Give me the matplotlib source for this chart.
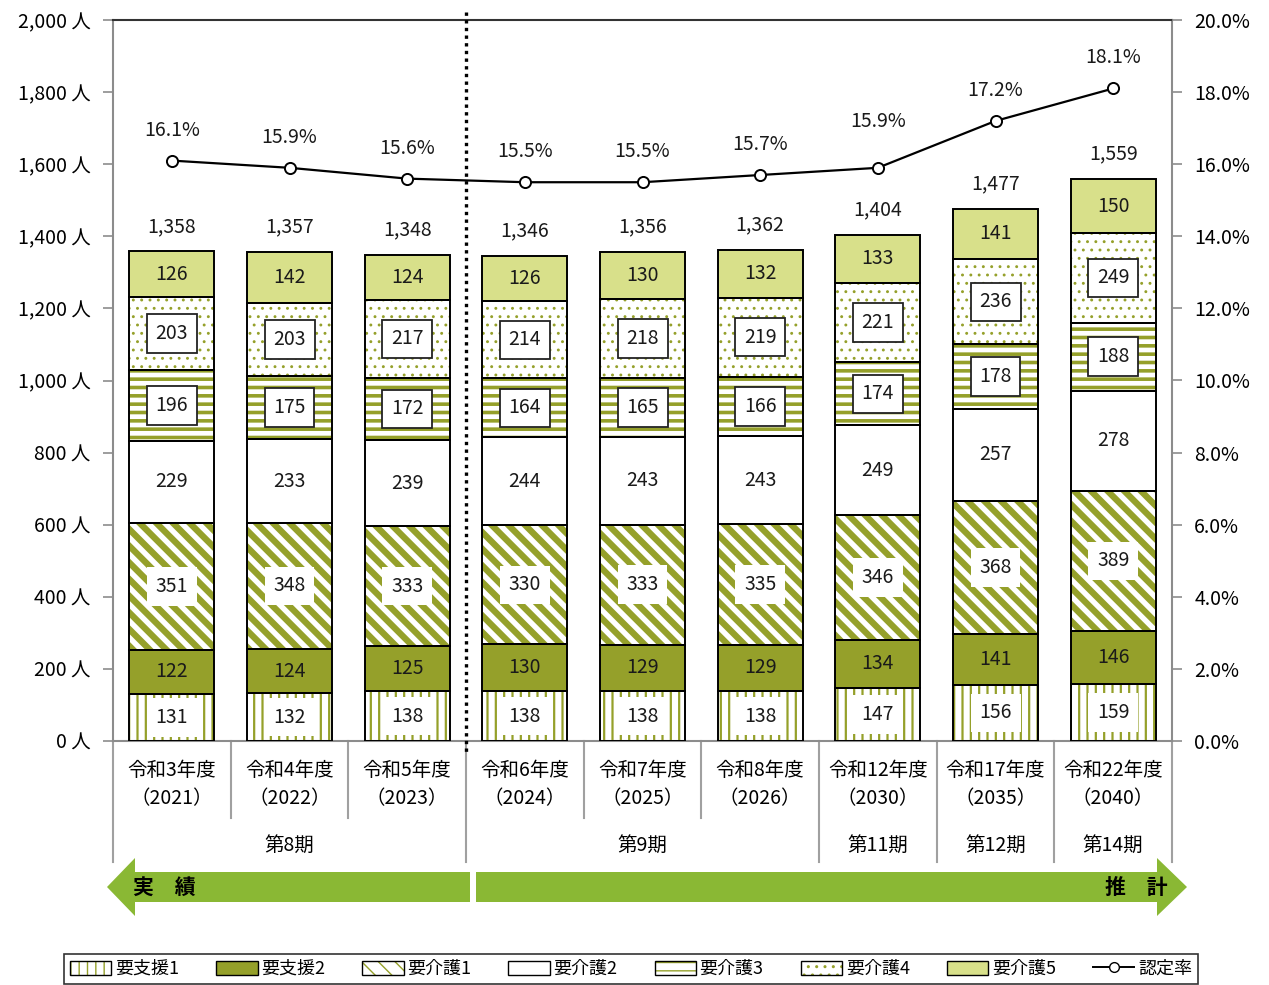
import matplotlib.pyplot as plt
import matplotlib.patches as mpatches
from matplotlib.lines import Line2D
from matplotlib import transforms
from matplotlib.legend_handler import HandlerTuple

plt.rcParams['font.family'] = ['Noto Sans CJK JP', 'DejaVu Sans']

years = ['令和3年度\n（2021）', '令和4年度\n（2022）', '令和5年度\n（2023）',
         '令和6年度\n（2024）', '令和7年度\n（2025）', '令和8年度\n（2026）',
         '令和12年度\n（2030）', '令和17年度\n（2035）', '令和22年度\n（2040）']
periods = ['第8期', '第9期', '第11期', '第12期', '第14期']
period_spans = [(0, 2), (3, 5), (6, 6), (7, 7), (8, 8)]

series_names = ['要支援1', '要支援2', '要介護1', '要介護2', '要介護3', '要介護4', '要介護5']
shien1 = [131, 132, 138, 138, 138, 138, 147, 156, 159]
shien2 = [122, 124, 125, 130, 129, 129, 134, 141, 146]
kaigo1 = [351, 348, 333, 330, 333, 335, 346, 368, 389]
kaigo2 = [229, 233, 239, 244, 243, 243, 249, 257, 278]
kaigo3 = [196, 175, 172, 164, 165, 166, 174, 178, 188]
kaigo4 = [203, 203, 217, 214, 218, 219, 221, 236, 249]
kaigo5 = [126, 142, 124, 126, 130, 132, 133, 141, 150]
totals = [1358, 1357, 1348, 1346, 1356, 1362, 1404, 1477, 1559]
rate = [16.1, 15.9, 15.6, 15.5, 15.5, 15.7, 15.9, 17.2, 18.1]

OLIVE = '#95A02A'
LIGHT = '#D8E08A'
ARROW = '#8AB834'
GRAY = '#8C8C8C'

# face colour, hatch, hatch colour, hatch width, label style
styles = [
    ('white', '||', OLIVE, 1.6, 'white'),
    (OLIVE, None, None, 0, None),
    ('white', '\\\\', OLIVE, 4.6, 'white'),
    ('white', None, None, 0, None),
    ('white', '--', OLIVE, 2.6, 'boxed'),
    ('white', '..', OLIVE, 0.9, 'boxed'),
    (LIGHT, None, None, 0, None),
]
data = [shien1, shien2, kaigo1, kaigo2, kaigo3, kaigo4, kaigo5]

W, H = 1269, 985
fig = plt.figure(figsize=(W / 100, H / 100), dpi=100)
ax = fig.add_axes([113 / W, 1 - 741 / H, (1172 - 113) / W, 721 / H])
x = list(range(len(years)))
bw = 0.72
FS = 14


def make_patch(face, hatch, hcol, hlw):
    p = mpatches.Rectangle((0, 0), 1, 1, facecolor=face,
                           edgecolor=hcol if hatch else 'none',
                           hatch=hatch, linewidth=0)
    if hatch and hasattr(p, 'set_hatch_linewidth'):
        p.set_hatch_linewidth(hlw)
    return p


bottom = [0] * len(x)
legend_handles = []
for vals, (face, hatch, hcol, hlw, lab) in zip(data, styles):
    with plt.rc_context({'hatch.linewidth': hlw if hatch else 1.0}):
        bars = ax.bar(x, vals, bw, bottom=bottom, color=face,
                      edgecolor=hcol if hatch else 'none', hatch=hatch,
                      linewidth=0, zorder=2)
        if hatch:
            for b in bars:
                if hasattr(b, 'set_hatch_linewidth'):
                    b.set_hatch_linewidth(hlw)
    ax.bar(x, vals, bw, bottom=bottom, fill=False, edgecolor='black',
           linewidth=1.4, zorder=3)
    for xi, b0, v in zip(x, bottom, vals):
        kw = dict(ha='center', va='center', fontsize=FS, color='#1a1a1a', zorder=5)
        if lab == 'white':
            kw['bbox'] = dict(boxstyle='square,pad=0.45', fc='white', ec='none')
        elif lab == 'boxed':
            kw['bbox'] = dict(boxstyle='square,pad=0.45', fc='white', ec='#222222', lw=1.3)
        ax.text(xi, b0 + v / 2, str(v), **kw)
    hp = make_patch(face, hatch, hcol, min(hlw, 2.0))
    outline = mpatches.Rectangle((0, 0), 1, 1, fill=False, edgecolor='black', linewidth=1.0)
    legend_handles.append((hp, outline))
    bottom = [b + v for b, v in zip(bottom, vals)]

# totals above each stack
for xi, t in zip(x, totals):
    ax.annotate(f'{t:,}', (xi, t), xytext=(0, 18), textcoords='offset points',
                ha='center', va='center', fontsize=FS, color='#1a1a1a')

ax.set_xlim(-0.5, len(x) - 0.5)
ax.set_ylim(0, 2000)
ax.set_yticks(range(0, 2001, 200))
ax.set_yticklabels([f'{v:,} 人' for v in range(0, 2001, 200)], fontsize=FS)
ax.set_xticks([])
ax.tick_params(axis='y', direction='out', length=7, color=GRAY, width=1.2, pad=9)
for s in ('left', 'right', 'bottom'):
    ax.spines[s].set_color(GRAY)
    ax.spines[s].set_linewidth(1.5)
ax.spines['top'].set_color('#333333')
ax.spines['top'].set_linewidth(1.5)

# dotted divider between actual and projected years
ax.plot([2.5, 2.5], [1 + 8 / 721, -14 / 721], color='black', linestyle=(0, (1, 1.3)),
        linewidth=2.4, transform=transforms.blended_transform_factory(ax.transData, ax.transAxes),
        clip_on=False, zorder=6)

# certification rate on the secondary axis
ax2 = ax.twinx()
ax2.set_ylim(0, 20)
ax2.set_yticks(range(0, 21, 2))
ax2.set_yticklabels([f'{v:.1f}%' for v in range(0, 21, 2)], fontsize=FS)
ax2.tick_params(axis='y', direction='out', length=7, color=GRAY, width=1.2, pad=9)
for s in ('left', 'right', 'bottom', 'top'):
    ax2.spines[s].set_visible(False)
ax2.plot(x, rate, color='black', linewidth=1.6, marker='o', markersize=8,
         markerfacecolor='white', markeredgecolor='black', markeredgewidth=1.4, zorder=4)
rate_offsets = [22, 22, 22, 22, 22, 22, 33, 22, 22]
for xi, r, off in zip(x, rate, rate_offsets):
    ax2.annotate(f'{r:.1f}%', (xi, r), xytext=(0, off), textcoords='offset points',
                 ha='center', va='center', fontsize=FS, color='#1a1a1a')

# category labels, period labels and separators below the axis
px = transforms.Affine2D().scale(1 / W, -1 / H).translate(0, 1) + fig.transFigure
bt = transforms.blended_transform_factory(ax.transData, px)
for xi, lbl in zip(x, years):
    top_line, bot_line = lbl.split('\n')
    ax.text(xi, 770, top_line, transform=bt, ha='center', va='center', fontsize=FS)
    ax.text(xi, 799, bot_line, transform=bt, ha='center', va='center', fontsize=FS)
group_edges = {s - 0.5 for s, e in period_spans} | {e + 0.5 for s, e in period_spans}
for k in range(len(x) + 1):
    xb = k - 0.5
    y_end = 862 if xb in group_edges else 818
    ax.add_line(Line2D([xb, xb], [741, y_end], transform=bt, color='#A0A0A0',
                       linewidth=1.5, clip_on=False))
for (s, e), name in zip(period_spans, periods):
    ax.text((s + e) / 2, 845, name, transform=bt, ha='center', va='center', fontsize=FS)

# arrows: actual (left) and projection (right)
left_arrow = mpatches.Polygon([(107, 887), (135, 858), (135, 872), (470, 872), (470, 902),
                               (135, 902), (135, 916)], closed=True, transform=px,
                              facecolor=ARROW, edgecolor='none')
right_arrow = mpatches.Polygon([(1187, 887), (1157, 858), (1157, 872), (476, 872), (476, 902),
                                (1157, 902), (1157, 916)], closed=True, transform=px,
                               facecolor=ARROW, edgecolor='none')
fig.patches.extend([left_arrow, right_arrow])
fig.text(133 / W, 1 - 887 / H, '実\u3000績', ha='left', va='center', fontsize=15,
         fontweight='bold', color='black')
fig.text(1168 / W, 1 - 887 / H, '推\u3000計', ha='right', va='center', fontsize=15,
         fontweight='bold', color='black')

rate_handle = Line2D([], [], color='black', linewidth=1.4, marker='o', markersize=7,
                     markerfacecolor='white', markeredgecolor='black')
leg = fig.legend(legend_handles + [rate_handle], series_names + ['認定率'],
                 loc='center', bbox_to_anchor=(631 / W, 1 - 969 / H), ncol=8,
                 fontsize=13, frameon=True, fancybox=False, edgecolor='black',
                 handlelength=2.3, handleheight=0.8, handletextpad=0.2, columnspacing=2.05,
                 borderpad=0.35, handler_map={tuple: HandlerTuple(ndivide=1)})
leg.get_frame().set_linewidth(1.2)

fig.savefig('out.png', dpi=100)
